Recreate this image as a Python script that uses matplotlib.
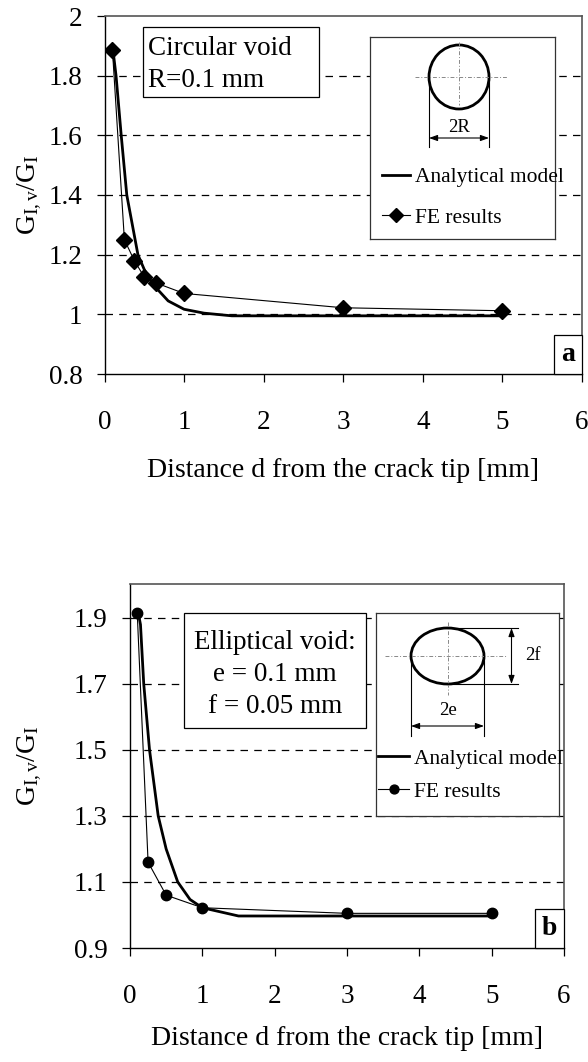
import matplotlib
matplotlib.use('Agg')
import matplotlib.pyplot as plt
from matplotlib.patches import Ellipse, Rectangle
from matplotlib.offsetbox import AnchoredText

# ---------------- data ----------------
x_ticks = [0, 1, 2, 3, 4, 5, 6]
x_tick_labels = ['0', '1', '2', '3', '4', '5', '6']

# (a) circular void
a_fe_x = [0.1, 0.25, 0.375, 0.5, 0.65, 1.0, 3.0, 5.0]
a_fe_y = [1.885, 1.25, 1.18, 1.125, 1.105, 1.07, 1.022, 1.012]
a_an_x = [0.1, 0.145, 0.21, 0.28, 0.42, 0.5, 0.61, 0.8, 1.0, 1.25, 1.6, 5.0]
a_an_y = [1.9, 1.8, 1.6, 1.4, 1.2, 1.15, 1.1, 1.045, 1.017, 1.004, 0.995, 0.995]
a_yticks = [0.8, 1.0, 1.2, 1.4, 1.6, 1.8, 2.0]
a_ytick_labels = ['0.8', '1', '1.2', '1.4', '1.6', '1.8', '2']

# (b) elliptical void
b_fe_x = [0.1, 0.25, 0.5, 1.0, 3.0, 5.0]
b_fe_y = [1.915, 1.16, 1.06, 1.022, 1.005, 1.005]
b_an_x = [0.11, 0.145, 0.19, 0.27, 0.39, 0.5, 0.66, 0.83, 1.0, 1.5, 5.0]
b_an_y = [1.92, 1.88, 1.7, 1.5, 1.3, 1.2, 1.1, 1.047, 1.022, 0.997, 0.997]
b_yticks = [0.9, 1.1, 1.3, 1.5, 1.7, 1.9]
b_ytick_labels = ['0.9', '1.1', '1.3', '1.5', '1.7', '1.9']

# ---------------- style ----------------
W, H = 588, 1062
plt.rcParams['font.family'] = ['Liberation Serif', 'DejaVu Serif']
plt.rcParams['mathtext.fontset'] = 'custom'
plt.rcParams['mathtext.rm'] = 'Liberation Serif'
plt.rcParams['mathtext.it'] = 'Liberation Serif:italic'
plt.rcParams['mathtext.bf'] = 'Liberation Serif:bold'

TICK_FS = 19.5
LABEL_FS = 20
BOX_FS = 19.5
LEG_FS = 15.5
SMALL_FS = 13.5

fig = plt.figure(figsize=(W / 100, H / 100), dpi=100)


def fx(x):
    return x / W


def fy(y):
    return 1 - y / H


def make_axes(left, top, right, bottom):
    return fig.add_axes([fx(left), fy(bottom), (right - left) / W, (bottom - top) / H])


def style_main(ax, yticks, ylabels, ylim):
    ax.set_xlim(0, 6)
    ax.set_ylim(*ylim)
    ax.set_xticks(x_ticks)
    ax.set_xticklabels(x_tick_labels)
    ax.set_yticks(yticks)
    ax.set_yticklabels(ylabels)
    ax.tick_params(direction='out', length=6, width=0.9, labelsize=TICK_FS, colors='black')
    ax.tick_params(axis='x', pad=20)
    ax.tick_params(axis='y', pad=10)
    for s in ['left', 'bottom']:
        ax.spines[s].set_color('black')
        ax.spines[s].set_linewidth(1.0)
    for s in ['top', 'right']:
        ax.spines[s].set_color('#555555')
        ax.spines[s].set_linewidth(1.2)
    for yv in yticks:
        if ylim[0] < yv < ylim[1] - 1e-9:
            ax.axhline(yv, color='black', lw=0.9, ls=(0, (6, 5)), zorder=0.5)


def text_box(ax, left, top, right, bottom):
    ax.add_patch(Rectangle((fx(left), fy(bottom)), (right - left) / W, (bottom - top) / H,
                           transform=fig.transFigure, fc='white', ec='black', lw=0.9,
                           zorder=5, clip_on=False))


ylab = r'$\mathregular{G_{I,v}/G_I}$'

# ---------------- (a) ----------------
axa = make_axes(104.5, 16, 582, 374)
style_main(axa, a_yticks, a_ytick_labels, (0.8, 2.0))
la, = axa.plot(a_an_x, a_an_y, color='black', lw=2.0, zorder=3)
fa, = axa.plot(a_fe_x, a_fe_y, color='black', lw=0.8, marker='D', markersize=8.5, zorder=4)
axa.set_xlabel('Distance d from the crack tip [mm]', fontsize=LABEL_FS)
axa.xaxis.set_label_coords(0.5, -0.235)
fig.text(fx(30), fy(195), ylab, rotation=90, ha='center', va='center', fontsize=LABEL_FS)
text_box(axa, 143, 27, 319, 97)
axa.text(fx(148), fy(64.5), 'Circular void\nR=0.1 mm', transform=fig.transFigure,
         ha='left', va='center', fontsize=BOX_FS, linespacing=1.42, zorder=6)
ata = AnchoredText('a', loc='lower right', prop=dict(size=LABEL_FS, weight='bold'),
                   frameon=True, pad=0.25, borderpad=0)
ata.patch.set_linewidth(0.9)
axa.add_artist(ata)

# inset (a)
ia = make_axes(370, 37, 555, 239)
ia.set_xlim(370, 555)
ia.set_ylim(239, 37)
ia.set_xticks([])
ia.set_yticks([])
for s in ia.spines.values():
    s.set_color('#333333')
    s.set_linewidth(0.9)
ia.add_patch(Ellipse((459, 77), 60, 64, fill=False, lw=2.0, ec='black'))
ia.plot([415, 508], [77, 77], color='#888888', lw=0.7, ls=(0, (4, 2, 1, 2)))
ia.plot([459, 459], [42, 105], color='#888888', lw=0.7, ls=(0, (4, 2, 1, 2)))
ia.plot([429, 429], [77, 147], color='black', lw=0.8)
ia.plot([489, 489], [77, 147], color='black', lw=0.8)
ia.annotate('', xy=(429, 138), xytext=(489, 138),
            arrowprops=dict(arrowstyle='<|-|>,head_length=0.5,head_width=0.18', lw=0.8,
                            color='black', shrinkA=0, shrinkB=0))
ia.text(459, 136, '2R', ha='center', va='bottom', fontsize=SMALL_FS)
ia.legend([la, fa], ['Analytical model', 'FE results'], loc='center left',
          bbox_to_anchor=(fx(382), fy(197.5)), bbox_transform=fig.transFigure,
          frameon=False, fontsize=LEG_FS, handlelength=1.3, handletextpad=0.25,
          labelspacing=0.95, borderpad=0, borderaxespad=0, markerscale=0.8)

# ---------------- (b) ----------------
axb = make_axes(130, 584, 564, 948)
style_main(axb, b_yticks, b_ytick_labels, (0.9, 2.003))
lb, = axb.plot(b_an_x, b_an_y, color='black', lw=2.0, zorder=3)
fb, = axb.plot(b_fe_x, b_fe_y, color='black', lw=0.8, marker='o', markersize=7.5, zorder=4)
axb.set_xlabel('Distance d from the crack tip [mm]', fontsize=LABEL_FS)
axb.xaxis.set_label_coords(0.5, -0.215)
fig.text(fx(30), fy(766), ylab, rotation=90, ha='center', va='center', fontsize=LABEL_FS)
text_box(axb, 184, 613, 366, 728)
axb.text(fx(275), fy(674.5), 'Elliptical void:\ne = 0.1 mm\nf = 0.05 mm', transform=fig.transFigure,
         ha='center', va='center', multialignment='center', fontsize=BOX_FS, linespacing=1.35,
         zorder=6)
atb = AnchoredText('b', loc='lower right', prop=dict(size=LABEL_FS, weight='bold'),
                   frameon=True, pad=0.25, borderpad=0)
atb.patch.set_linewidth(0.9)
axb.add_artist(atb)

# inset (b)
ib = make_axes(376, 613, 559, 816)
ib.set_xlim(376, 559)
ib.set_ylim(816, 613)
ib.set_xticks([])
ib.set_yticks([])
for s in ib.spines.values():
    s.set_color('#333333')
    s.set_linewidth(0.9)
ib.add_patch(Ellipse((447.5, 656), 73, 56, fill=False, lw=2.0, ec='black'))
ib.plot([385, 507], [656, 656], color='#888888', lw=0.7, ls=(0, (4, 2, 1, 2)))
ib.plot([447.5, 447.5], [622, 695], color='#888888', lw=0.7, ls=(0, (4, 2, 1, 2)))
ib.plot([447, 518], [628, 628], color='black', lw=0.8)
ib.plot([447, 518], [684, 684], color='black', lw=0.8)
ib.annotate('', xy=(511.5, 628), xytext=(511.5, 684),
            arrowprops=dict(arrowstyle='<|-|>,head_length=0.5,head_width=0.18', lw=0.8,
                            color='black', shrinkA=0, shrinkB=0))
ib.text(525, 656, '2f', ha='left', va='center', fontsize=SMALL_FS)
ib.plot([411, 411], [656, 736], color='black', lw=0.8)
ib.plot([484, 484], [656, 736], color='black', lw=0.8)
ib.annotate('', xy=(411, 726), xytext=(484, 726),
            arrowprops=dict(arrowstyle='<|-|>,head_length=0.5,head_width=0.18', lw=0.8,
                            color='black', shrinkA=0, shrinkB=0))
ib.text(447.5, 711, '2e', ha='center', va='center', fontsize=SMALL_FS)
ib.legend([lb, fb], ['Analytical model', 'FE results'], loc='center left',
          bbox_to_anchor=(fx(378), fy(775)), bbox_transform=fig.transFigure,
          frameon=False, fontsize=LEG_FS, handlelength=1.45, handletextpad=0.2,
          labelspacing=0.6, borderpad=0, borderaxespad=0, markerscale=0.85)

fig.savefig('out.png', dpi=100)
